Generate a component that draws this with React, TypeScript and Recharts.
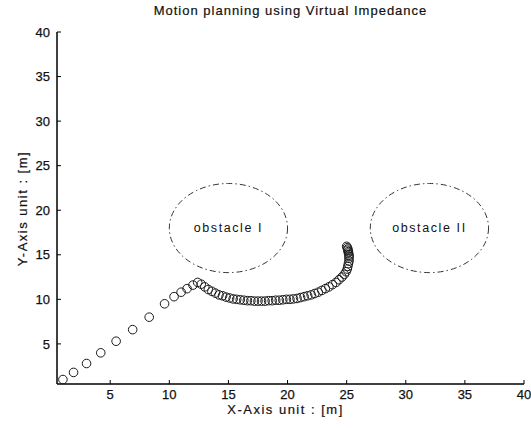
import React from 'react';
import {
  ScatterChart,
  Scatter,
  XAxis,
  YAxis,
  ReferenceArea,
} from 'recharts';

// robot positions along the planned path [m]
const pathX = [
  1.0, 1.9, 3.0, 4.2, 5.5, 6.9, 8.3, 9.6, 10.4, 11.0, 11.5, 12.0, 12.4,
  12.7, 13.0, 13.3, 13.6, 13.9, 14.2, 14.5, 14.8, 15.1, 15.4, 15.7, 16.0,
  16.3, 16.6, 16.9, 17.2, 17.5, 17.8, 18.1, 18.4, 18.7, 19.0, 19.3, 19.6,
  19.9, 20.2, 20.5, 20.8, 21.1, 21.4, 21.7, 22.0, 22.3, 22.6, 22.9, 23.2,
  23.5, 23.8, 24.1, 24.35, 24.6, 24.8, 24.95, 25.05, 25.1, 25.15, 25.2,
  25.2, 25.2, 25.2, 25.15, 25.15, 25.1, 25.1, 25.05, 25.0,
];
const pathY = [
  1.0, 1.8, 2.8, 4.0, 5.3, 6.6, 8.0, 9.5, 10.3, 10.8, 11.2, 11.6, 11.9,
  11.7, 11.4, 11.1, 10.9, 10.7, 10.5, 10.4, 10.25, 10.15, 10.05, 10.0, 9.95,
  9.9, 9.85, 9.85, 9.8, 9.8, 9.8, 9.8, 9.85, 9.85, 9.9, 9.9, 9.95,
  10.0, 10.0, 10.05, 10.1, 10.2, 10.3, 10.4, 10.5, 10.65, 10.8, 11.0, 11.2,
  11.4, 11.65, 11.9, 12.2, 12.5, 12.8, 13.1, 13.4, 13.7, 14.0, 14.3,
  14.6, 14.8, 15.0, 15.2, 15.35, 15.5, 15.65, 15.8, 15.95,
];

// obstacles: circles in world coordinates
const obstacleNames = ['obstacle I', 'obstacle II'];
const obstacleX = [15, 32];
const obstacleY = [18, 18];
const obstacleR = [5, 5];

const xTicks = [5, 10, 15, 20, 25, 30, 35, 40];
const yTicks = [5, 10, 15, 20, 25, 30, 35, 40];

const W = 531;
const H = 429;
const FONT = '"Liberation Sans", Arial, Helvetica, sans-serif';
const INK = '#111';

const pathData = pathX.map((x, i) => ({ x, y: pathY[i] }));

const Ring = (props: any) => (
  <circle cx={props.cx} cy={props.cy} r={4.3} fill="none" stroke="#1a1a1a" strokeWidth={1} />
);

const ObstacleShape = (props: any) => {
  const { x, y, width, height } = props;
  return (
    <ellipse
      cx={x + width / 2}
      cy={y + height / 2}
      rx={Math.abs(width) / 2}
      ry={Math.abs(height) / 2}
      fill="none"
      stroke="#333"
      strokeWidth={1}
      strokeDasharray="6 3 1.5 3"
    />
  );
};

const tickStyle = { fontSize: 13, fill: INK, stroke: INK, strokeWidth: 0.25, fontFamily: FONT };
const noLabel = () => <g />;
const frame = { stroke: '#000', strokeWidth: 1.5 };

const textBase: React.CSSProperties = {
  position: 'absolute',
  textAlign: 'center',
  fontSize: 13,
  letterSpacing: 1.5,
  color: INK,
  whiteSpace: 'nowrap',
  WebkitTextStroke: '0.2px #111',
};

export default function App() {
  return (
    <div style={{ position: 'absolute', left: 0, top: 0, width: W, height: H, background: '#fff', fontFamily: FONT }}>
      <div style={{ ...textBase, left: 57, width: 467, top: 3, letterSpacing: 1 }}>
        Motion planning using Virtual Impedance
      </div>
      <div style={{ ...textBase, left: 52, width: 467, top: 402 }}>
        X-Axis unit : [m]
      </div>
      <div
        style={{
          ...textBase,
          left: 22,
          top: 209,
          width: 200,
          marginLeft: -100,
          marginTop: -8,
          transform: 'rotate(-90deg)',
        }}
      >
        Y-Axis unit : [m]
      </div>
      <ScatterChart
        width={W}
        height={H}
        margin={{ top: 32, right: 7, bottom: 0, left: 0 }}
        style={{ position: 'absolute', left: 0, top: 0 }}
      >
        <XAxis
          xAxisId="b"
          type="number"
          dataKey="x"
          domain={[0.5, 40]}
          ticks={xTicks}
          allowDataOverflow
          height={45}
          tickSize={-4}
          tickMargin={10}
          tick={tickStyle}
          axisLine={frame}
          tickLine={{ stroke: '#000' }}
        />
        <XAxis
          xAxisId="t"
          orientation="top"
          type="number"
          dataKey="x"
          domain={[0.5, 40]}
          ticks={xTicks}
          allowDataOverflow
          height={0}
          tickSize={-4}
          tick={noLabel}
          axisLine={frame}
          tickLine={{ stroke: '#000' }}
        />
        <YAxis
          yAxisId="l"
          type="number"
          dataKey="y"
          domain={[0.5, 40]}
          ticks={yTicks}
          allowDataOverflow
          width={57}
          tickSize={-4}
          tickMargin={11}
          tick={tickStyle}
          axisLine={frame}
          tickLine={{ stroke: '#000' }}
        />
        <YAxis
          yAxisId="r"
          orientation="right"
          type="number"
          dataKey="y"
          domain={[0.5, 40]}
          ticks={yTicks}
          allowDataOverflow
          width={0}
          tickSize={-4}
          tick={noLabel}
          axisLine={frame}
          tickLine={{ stroke: '#000' }}
        />
        {obstacleNames.map((name, i) => (
          <ReferenceArea
            key={name}
            xAxisId="b"
            yAxisId="l"
            x1={obstacleX[i] - obstacleR[i]}
            x2={obstacleX[i] + obstacleR[i]}
            y1={obstacleY[i] - obstacleR[i]}
            y2={obstacleY[i] + obstacleR[i]}
            shape={ObstacleShape}
            label={{
              value: name,
              position: 'center',
              fontSize: 12.5,
              fill: INK,
              letterSpacing: 1.6,
              fontFamily: FONT,
            }}
          />
        ))}
        <Scatter
          xAxisId="b"
          yAxisId="l"
          data={pathData}
          shape={Ring}
          isAnimationActive={false}
        />
      </ScatterChart>
    </div>
  );
}
